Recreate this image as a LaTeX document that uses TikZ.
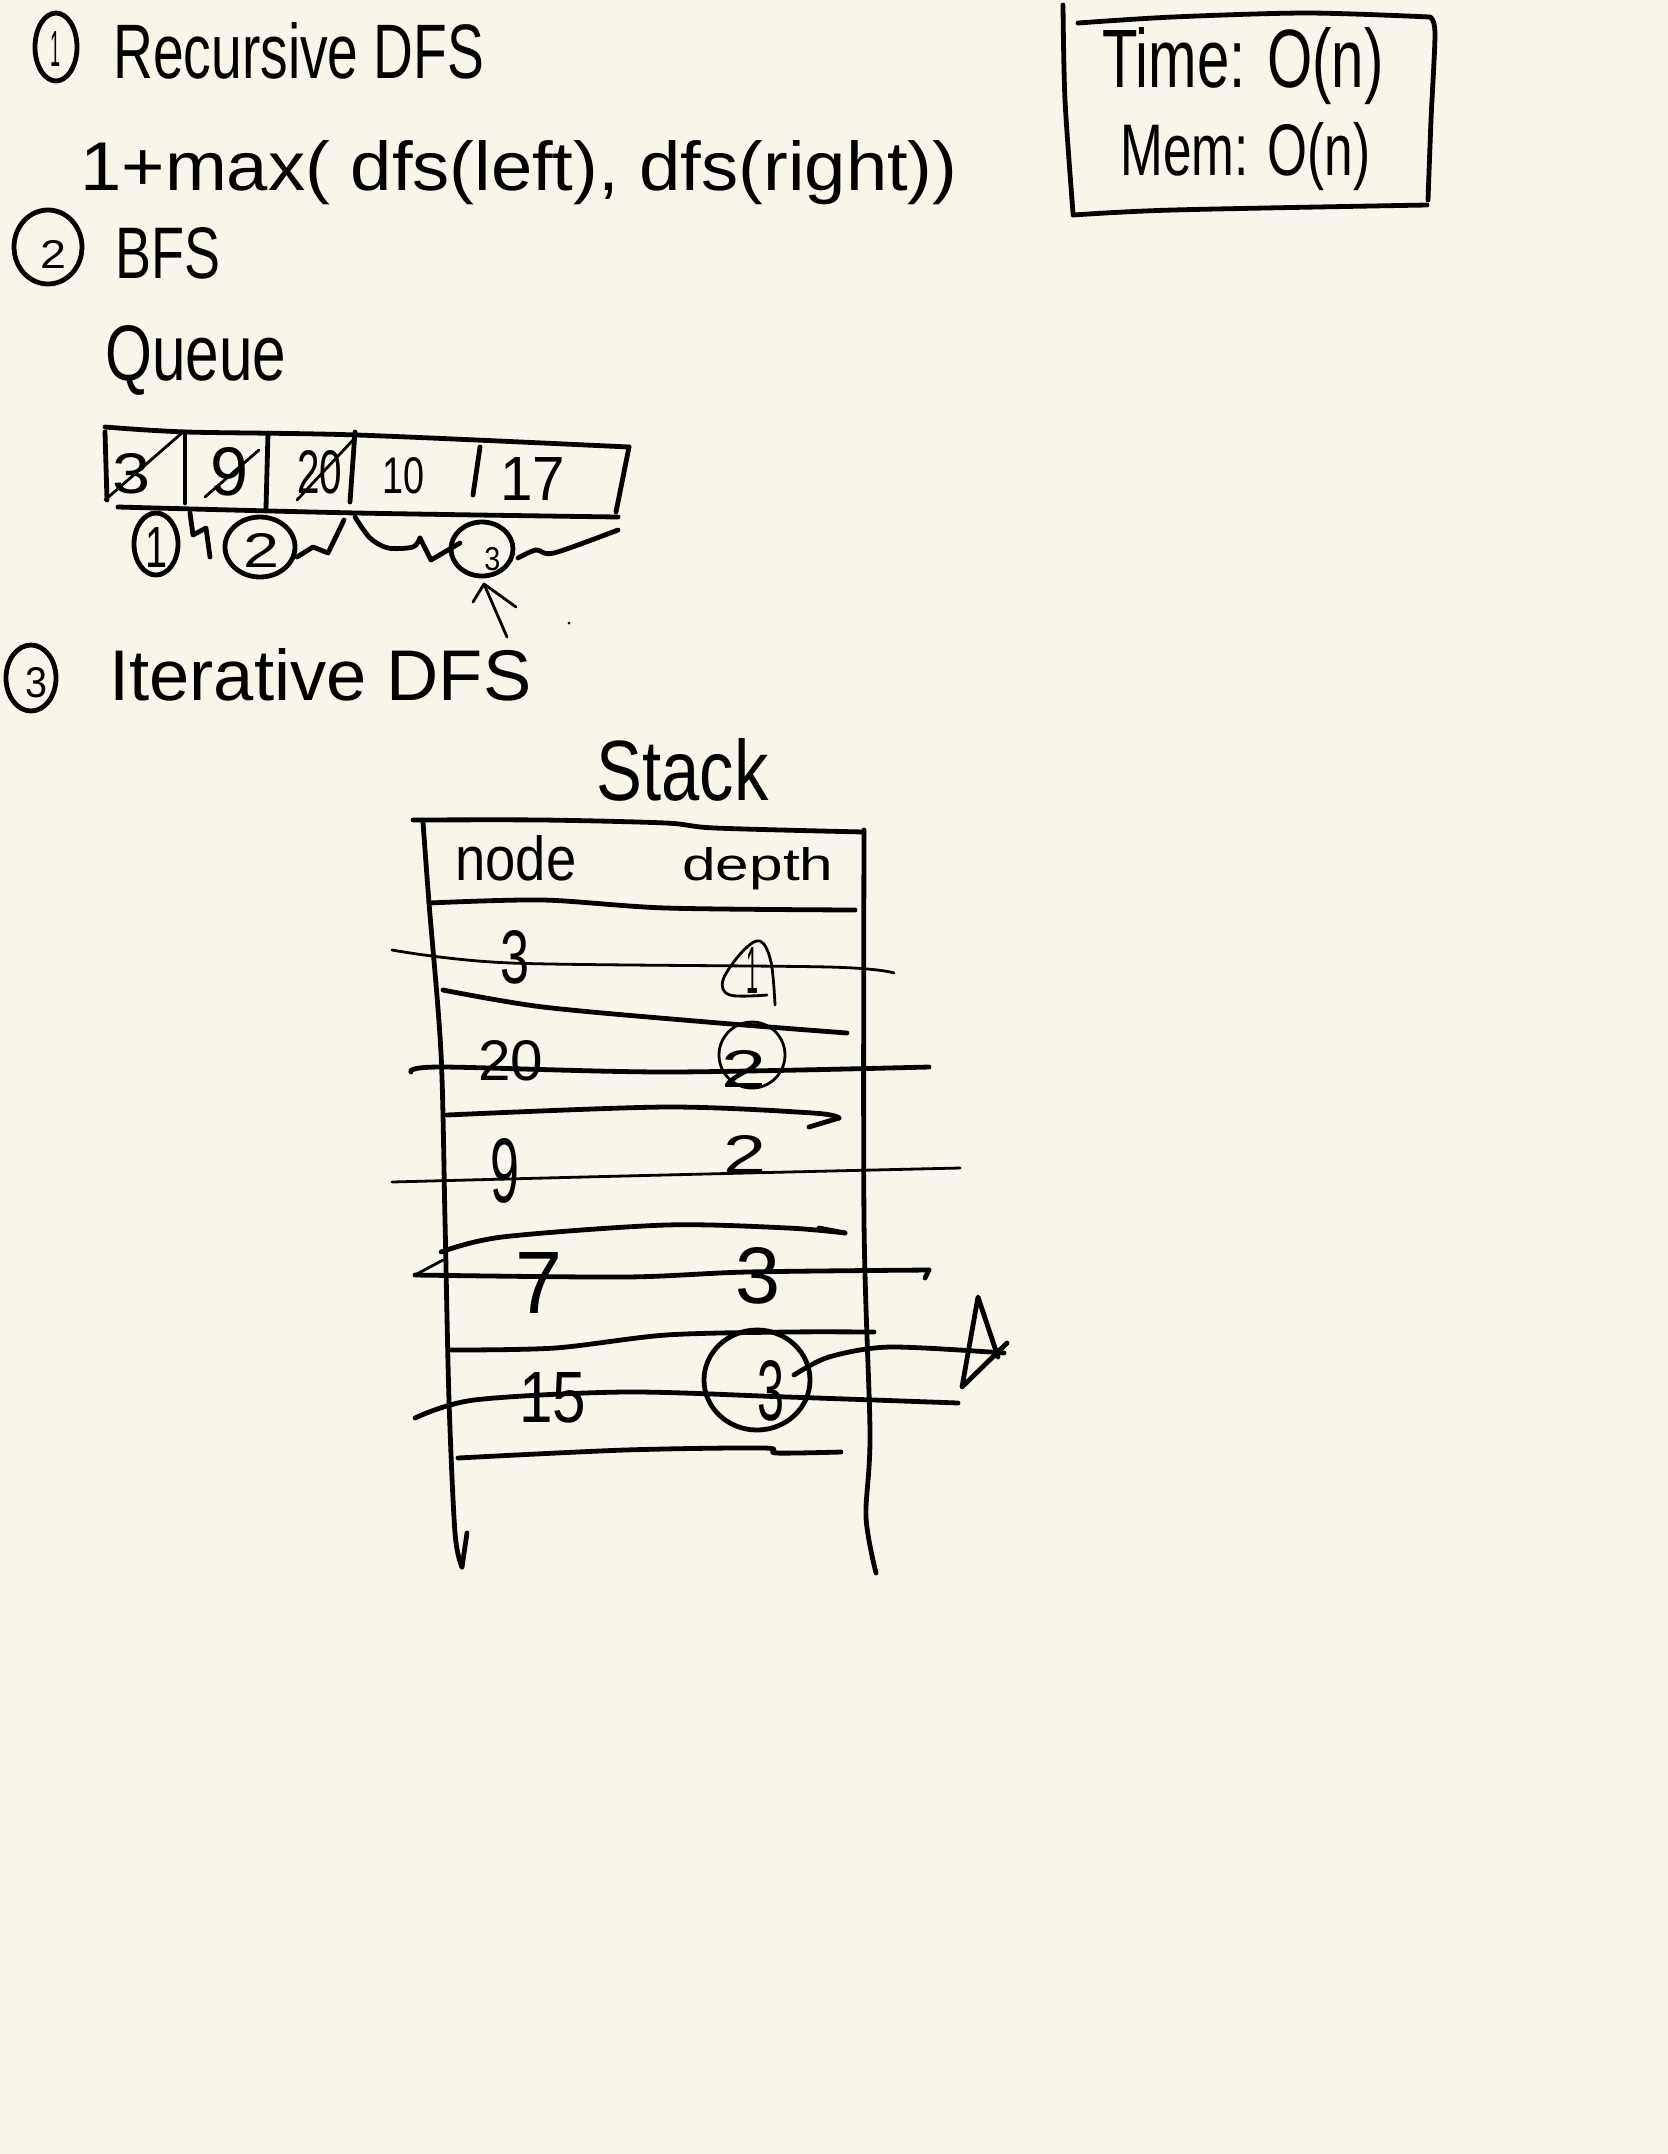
\documentclass[tikz,border=0pt]{standalone}
\usepackage{fontspec}
\setmainfont{Liberation Sans}
\usepackage{graphicx}
\newdimen\pxu \pxu=0.5pt
\newcommand\hw[3]{\resizebox{#1\pxu}{#2\pxu}{#3}}
\definecolor{paper}{RGB}{248,246,235}
\begin{document}
\begin{tikzpicture}[x=0.5pt,y=-0.5pt,
  pen/.style={line width=2.4pt,line cap=round,line join=round},
  fine/.style={line width=1.4pt,line cap=round,line join=round},
  txt/.style={anchor=base west,inner sep=0pt}]
\useasboundingbox[fill=paper] (0,0) rectangle (1668,2154);

% ---------- section 1 ----------
\draw[pen] (56,47) ellipse [x radius=21,y radius=34];
\node[txt] (n1) at (50,66) {\hw{10}{35}{1}};
\node[txt] (t1) at (113,78) {\hw{371}{56}{Recursive DFS}};
\node[txt] (f1) at (80,190) {\hw{877}{50}{1+max( dfs(left), dfs(right))}};

% ---------- time / mem box ----------
\draw[pen] plot[smooth] coordinates {(1063,5) (1065,100) (1073,213)};
\draw[pen] plot[smooth] coordinates {(1078,23) (1173,17) (1307,13) (1430,17)};
\draw[pen] plot[smooth] coordinates {(1430,17) (1435,33) (1431,120) (1428,200)};
\draw[pen] plot[smooth] coordinates {(1073,215) (1173,210) (1427,205)};
\node[txt] (tm) at (1102,87) {\hw{281}{60}{Time: O(n)}};
\node[txt] (mm) at (1120,175) {\hw{250}{53}{Mem: O(n)}};

% ---------- section 2 ----------
\draw[pen] (48,247) ellipse [x radius=34,y radius=37];
\node[txt] (n2) at (40,268) {\hw{26}{28}{2}};
\node[txt] (t2) at (115,278) {\hw{105}{51}{BFS}};
\node[txt] (qu) at (105,380) {\hw{181}{55}{Queue}};

% queue box
\draw[pen] plot[smooth] coordinates {(105,427) (187,432) (357,435) (629,447)};
\draw[pen] (105,432) -- (107,500);
\draw[pen] (629,447) -- (616,512);
\draw[pen] plot[smooth] coordinates {(118,507) (357,513) (618,517)};
\draw[pen] (185,432) -- (185,503);
\draw[pen] (268,433) -- (266,508);
\draw[pen] (355,432) -- (350,502);
\draw[pen] (480,447) -- (473,495);
\node[txt] (q1) at (112,493) {\hw{38}{40}{3}};
\node[txt] (q2) at (210,495) {\hw{38}{48}{9}};
\node[txt] (q3) at (297,493) {\hw{45}{43}{20}};
\node[txt] (q4) at (382,493) {\hw{42}{36}{10}};
\node[txt] (q5) at (500,500) {\hw{65}{43}{17}};
\draw[fine] (105,500) -- (183,432);
\draw[fine] (205,497) -- (259,450);
\draw[fine] (297,500) -- (353,440);

% marks under the queue
\draw[pen] (156,544) ellipse [x radius=22,y radius=31];
\node[txt] (c1) at (145,567) {\hw{22}{40}{1}};
\draw[pen] (190,513) -- (193,535) -- (206,528) -- (210,557);
\draw[pen] (260,547) ellipse [x radius=35,y radius=30];
\node[txt] (c2) at (243,567) {\hw{36}{34}{2}};
\draw[pen] (297,557) -- (313,547) -- (328,553) -- (344,520);
\draw[pen] plot[smooth,tension=0.5] coordinates {(355,517) (370,538) (388,548) (413,547) (420,538)};
\draw[pen] (420,538) -- (431,560) -- (460,543);
\draw[pen] (482,549) ellipse [x radius=31,y radius=27];
\node[txt] (c3) at (484,570) {\hw{16}{23}{3}};
\draw[pen] plot[smooth,tension=0.5] coordinates {(518,558) (536,550) (554,553) (618,530)};
\coordinate (ab) at (507,637);
\coordinate (at) at (484,584);
\draw[fine] (ab) -- (at);
\draw[fine] (473,602) -- (at) -- (516,607);
\fill (569,623) circle [radius=1.5];

% ---------- section 3 ----------
\draw[pen] (31,678) ellipse [x radius=25,y radius=33];
\node[txt] (n3) at (25,697) {\hw{22}{30}{3}};
\node[txt] (t3) at (109,700) {\hw{422}{52}{Iterative DFS}};
\node[txt] (st) at (596,800) {\hw{172}{62}{Stack}};

% stack frame
\draw[pen] plot[smooth] coordinates {(413,820) (543,820) (666,823) (715,828) (864,832)};
\draw[pen] plot[smooth] coordinates {(423,822) (429,903) (441,1053) (445,1220) (449,1400) (455,1533) (462,1567)};
\draw[pen] (462,1567) -- (467,1533);
\draw[pen] plot[smooth] coordinates {(864,830) (864,1220) (870,1433) (866,1517) (876,1573)};
\draw[pen] plot[smooth] coordinates {(429,903) (543,900) (666,908) (855,910)};
\node[txt] (hn) at (455,880) {\hw{121}{45}{node}};
\node[txt] (hd) at (682,880) {\hw{151}{33}{depth}};

% row 1
\node[txt] (r1a) at (500,983) {\hw{29}{53}{3}};
\draw[fine] plot[smooth,tension=0.6] coordinates {(775,1005) (771,962) (760,941) (742,952) (723,980) (730,995) (767,995)};
\node[txt] (r1b) at (746,993) {\hw{12}{46}{1}};
\draw[fine] plot[smooth] coordinates {(392,950) (511,963) (829,967) (894,973)};
\draw[pen] plot[smooth] coordinates {(443,990) (543,1007) (707,1022) (847,1033)};

% row 2
\node[txt] (r2a) at (478,1080) {\hw{65}{40}{20}};
\draw[fine] (752,1055) ellipse [x radius=33,y radius=33];
\node[txt] (r2b) at (721,1087) {\hw{45}{37}{2}};
\draw[pen] plot[smooth] coordinates {(411,1072) (441,1067) (666,1072) (929,1067)};
\draw[pen] plot[smooth] coordinates {(447,1115) (666,1107) (813,1113) (839,1118)};
\draw[pen] (839,1118) -- (809,1127);

% row 3
\node[txt] (r3a) at (490,1202) {\hw{29}{64}{9}};
\node[txt] (r3b) at (723,1173) {\hw{43}{38}{2}};
\draw[fine] plot[smooth] coordinates {(392,1182) (584,1177) (788,1172) (960,1168)};
\draw[pen] plot[smooth] coordinates {(441,1252) (502,1237) (666,1225) (788,1228) (845,1233)};
\draw[pen] (845,1233) -- (819,1228);

% row 4
\node[txt] (r4a) at (515,1313) {\hw{47}{61}{7}};
\node[txt] (r4b) at (735,1303) {\hw{45}{56}{3}};
\draw[fine] (443,1260) -- (415,1275);
\draw[pen] plot[smooth] coordinates {(415,1275) (625,1277) (747,1272) (929,1270)};
\draw[pen] (929,1270) -- (925,1278);
\draw[pen] plot[smooth] coordinates {(451,1350) (555,1348) (666,1335) (788,1332) (874,1332)};

% row 5
\node[txt] (r5a) at (519,1422) {\hw{67}{50}{15}};
\draw[pen] (757,1380) ellipse [x radius=53,y radius=50];
\node[txt] (r5b) at (757,1420) {\hw{27}{60}{3}};
\draw[pen] plot[smooth] coordinates {(415,1418) (474,1400) (625,1392) (788,1397) (958,1403)};
\draw[pen] plot[smooth] coordinates {(794,1375) (829,1357) (890,1347) (1004,1353)};
\draw[pen] (998,1357) -- (978,1297) -- (962,1387) -- (1007,1343);
\draw[pen] plot[smooth] coordinates {(458,1458) (625,1450) (764,1448) (776,1453) (841,1452)};
\end{tikzpicture}
\end{document}
